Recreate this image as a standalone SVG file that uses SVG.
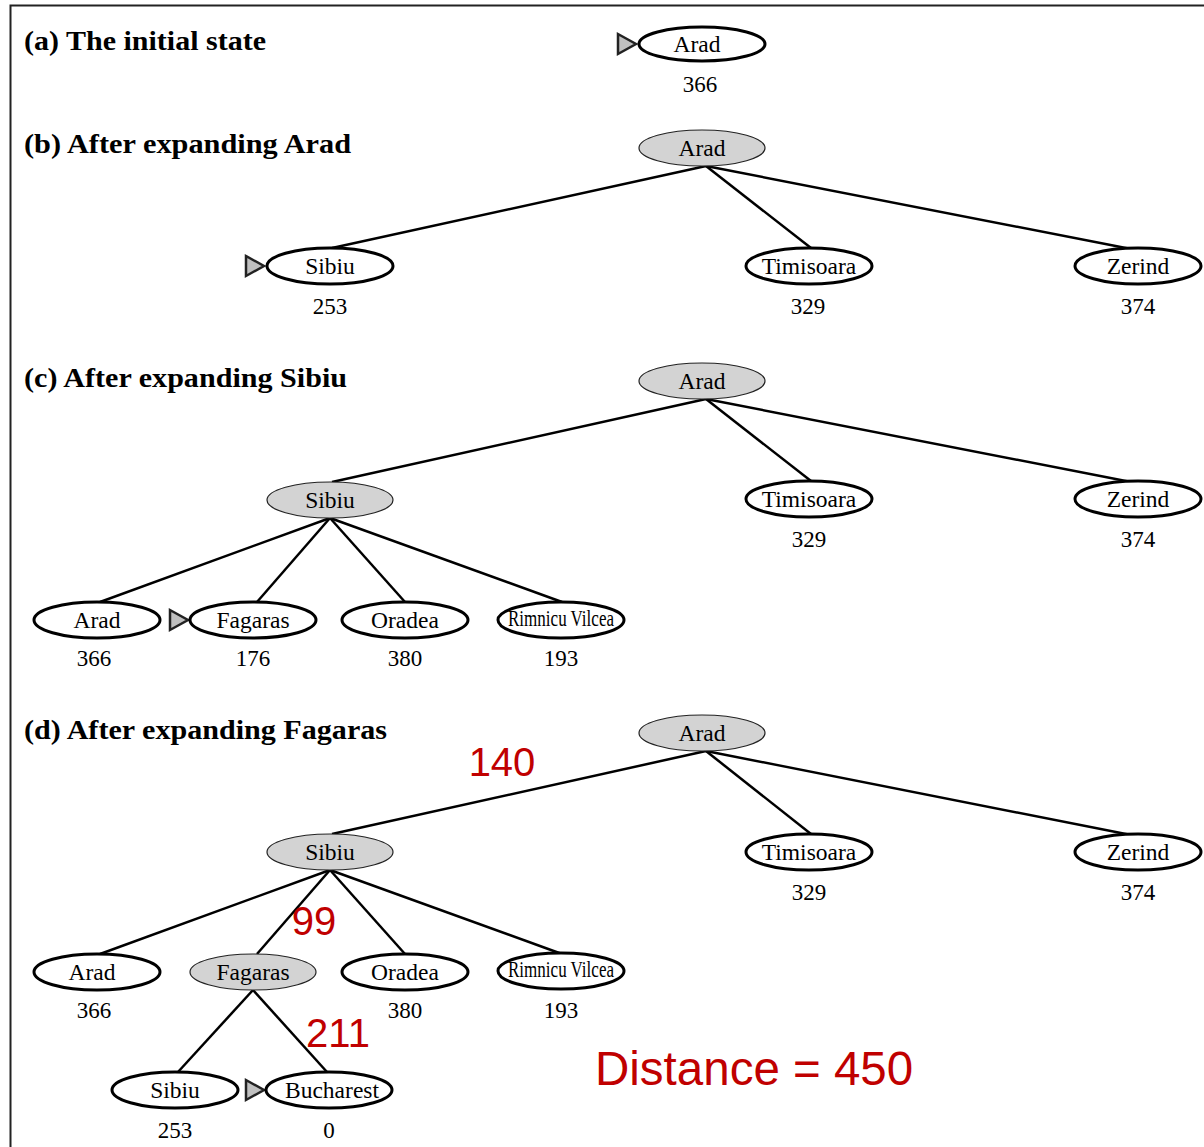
<svg xmlns="http://www.w3.org/2000/svg" width="1204" height="1147" viewBox="0 0 1204 1147">
<style>
.title{font-family:"Liberation Serif",serif;font-weight:bold;font-size:27px;fill:#000}
.lbl{font-family:"Liberation Serif",serif;font-size:23.5px;fill:#000;text-anchor:middle}
.val{font-family:"Liberation Serif",serif;font-size:23px;fill:#000;text-anchor:middle}
.red{font-family:"Liberation Sans",Arial,sans-serif;fill:#c00000}
.open{fill:#fff;stroke:#000;stroke-width:3}
.done{fill:#d3d3d3;stroke:#222;stroke-width:1.2}
.tri{fill:#c0c0c0;stroke:#222;stroke-width:2.5;stroke-linejoin:miter}
.edge{stroke:#000;stroke-width:2.5;fill:none}
</style>
<defs>
<polygon id="tri" class="tri" points="0,-10 0,10 18,0"/>
</defs>
<rect x="10.5" y="5.5" width="1200" height="1150" fill="#fff" stroke="#222" stroke-width="2"/>

<g id="titles">
<text class="title" x="24" y="50" textLength="242" lengthAdjust="spacingAndGlyphs">(a) The initial state</text>
<text class="title" x="24" y="153" textLength="327" lengthAdjust="spacingAndGlyphs">(b) After expanding Arad</text>
<text class="title" x="24" y="387" textLength="323" lengthAdjust="spacingAndGlyphs">(c) After expanding Sibiu</text>
<text class="title" x="24" y="739" textLength="363" lengthAdjust="spacingAndGlyphs">(d) After expanding Fagaras</text>
</g>

<g id="connectors">
<line class="edge" x1="706" y1="166" x2="332" y2="248"/>
<line class="edge" x1="706" y1="166" x2="811" y2="248"/>
<line class="edge" x1="706" y1="166" x2="1131" y2="249"/>
<line class="edge" x1="706" y1="399" x2="332" y2="482"/>
<line class="edge" x1="706" y1="399" x2="811" y2="481"/>
<line class="edge" x1="706" y1="399" x2="1131" y2="482"/>
<line class="edge" x1="330" y1="518" x2="100" y2="602"/>
<line class="edge" x1="330" y1="518" x2="257" y2="602"/>
<line class="edge" x1="330" y1="518" x2="405" y2="602"/>
<line class="edge" x1="330" y1="518" x2="562" y2="602"/>
<line class="edge" x1="706" y1="751" x2="332" y2="834"/>
<line class="edge" x1="706" y1="751" x2="811" y2="834"/>
<line class="edge" x1="706" y1="751" x2="1131" y2="835"/>
<line class="edge" x1="330" y1="870" x2="100" y2="954"/>
<line class="edge" x1="330" y1="870" x2="257" y2="954"/>
<line class="edge" x1="330" y1="870" x2="405" y2="954"/>
<line class="edge" x1="330" y1="870" x2="562" y2="954"/>
<line class="edge" x1="253" y1="990" x2="178" y2="1072"/>
<line class="edge" x1="253" y1="990" x2="327" y2="1072"/>
</g>

<g id="a_arad">
<use href="#tri" x="618" y="44"/>
<ellipse class="open" cx="702" cy="44" rx="63" ry="17"/>
<text class="lbl" x="697" y="52">Arad</text>
<text class="val" x="700" y="92">366</text>
</g>

<g id="b_arad">
<ellipse class="done" cx="702" cy="148" rx="63" ry="18"/>
<text class="lbl" x="702" y="156">Arad</text>
</g>
<g id="b_sibiu">
<use href="#tri" x="246" y="266"/>
<ellipse class="open" cx="330" cy="266" rx="63" ry="18"/>
<text class="lbl" x="330" y="274">Sibiu</text>
<text class="val" x="330" y="314">253</text>
</g>
<g id="b_timisoara">
<ellipse class="open" cx="809" cy="266" rx="63" ry="18"/>
<text class="lbl" x="809" y="274">Timisoara</text>
<text class="val" x="808" y="314">329</text>
</g>
<g id="b_zerind">
<ellipse class="open" cx="1138" cy="266" rx="63" ry="18"/>
<text class="lbl" x="1138" y="274">Zerind</text>
<text class="val" x="1138" y="314">374</text>
</g>

<g id="c_arad">
<ellipse class="done" cx="702" cy="381" rx="63" ry="18"/>
<text class="lbl" x="702" y="389">Arad</text>
</g>
<g id="c_sibiu">
<ellipse class="done" cx="330" cy="500" rx="63" ry="18"/>
<text class="lbl" x="330" y="508">Sibiu</text>
</g>
<g id="c_timisoara">
<ellipse class="open" cx="809" cy="499" rx="63" ry="18"/>
<text class="lbl" x="809" y="507">Timisoara</text>
<text class="val" x="809" y="547">329</text>
</g>
<g id="c_zerind">
<ellipse class="open" cx="1138" cy="499" rx="63" ry="18"/>
<text class="lbl" x="1138" y="507">Zerind</text>
<text class="val" x="1138" y="547">374</text>
</g>
<g id="c_arad2">
<ellipse class="open" cx="97" cy="620" rx="63" ry="18"/>
<text class="lbl" x="97" y="628">Arad</text>
<text class="val" x="94" y="666">366</text>
</g>
<g id="c_fagaras">
<use href="#tri" x="170" y="620"/>
<ellipse class="open" cx="253" cy="620" rx="63" ry="18"/>
<text class="lbl" x="253" y="628">Fagaras</text>
<text class="val" x="253" y="666">176</text>
</g>
<g id="c_oradea">
<ellipse class="open" cx="405" cy="620" rx="63" ry="18"/>
<text class="lbl" x="405" y="628">Oradea</text>
<text class="val" x="405" y="666">380</text>
</g>
<g id="c_rimnicu">
<ellipse class="open" cx="561" cy="620" rx="63" ry="18"/>
<text class="lbl" x="561" y="626" textLength="106" lengthAdjust="spacingAndGlyphs" font-size="20">Rimnicu Vilcea</text>
<text class="val" x="561" y="666">193</text>
</g>

<g id="d_arad">
<ellipse class="done" cx="702" cy="733" rx="63" ry="18"/>
<text class="lbl" x="702" y="741">Arad</text>
</g>
<g id="d_sibiu">
<ellipse class="done" cx="330" cy="852" rx="63" ry="18"/>
<text class="lbl" x="330" y="860">Sibiu</text>
</g>
<g id="d_timisoara">
<ellipse class="open" cx="809" cy="852" rx="63" ry="18"/>
<text class="lbl" x="809" y="860">Timisoara</text>
<text class="val" x="809" y="900">329</text>
</g>
<g id="d_zerind">
<ellipse class="open" cx="1138" cy="852" rx="63" ry="18"/>
<text class="lbl" x="1138" y="860">Zerind</text>
<text class="val" x="1138" y="900">374</text>
</g>
<g id="d_arad2">
<ellipse class="open" cx="97" cy="972" rx="63" ry="18"/>
<text class="lbl" x="92" y="980">Arad</text>
<text class="val" x="94" y="1018">366</text>
</g>
<g id="d_fagaras">
<ellipse class="done" cx="253" cy="972" rx="63" ry="18"/>
<text class="lbl" x="253" y="980">Fagaras</text>
</g>
<g id="d_oradea">
<ellipse class="open" cx="405" cy="972" rx="63" ry="18"/>
<text class="lbl" x="405" y="980">Oradea</text>
<text class="val" x="405" y="1018">380</text>
</g>
<g id="d_rimnicu">
<ellipse class="open" cx="561" cy="971" rx="63" ry="18"/>
<text class="lbl" x="561" y="977" textLength="106" lengthAdjust="spacingAndGlyphs" font-size="20">Rimnicu Vilcea</text>
<text class="val" x="561" y="1018">193</text>
</g>
<g id="d_sibiu2">
<ellipse class="open" cx="175" cy="1090" rx="63" ry="18"/>
<text class="lbl" x="175" y="1098">Sibiu</text>
<text class="val" x="175" y="1138">253</text>
</g>
<g id="d_bucharest">
<use href="#tri" x="246" y="1090"/>
<ellipse class="open" cx="329" cy="1090" rx="63" ry="18"/>
<text class="lbl" x="332" y="1098">Bucharest</text>
<text class="val" x="329" y="1138">0</text>
</g>

<g id="annotations">
<text class="red" x="502" y="776" font-size="40" text-anchor="middle">140</text>
<text class="red" x="314" y="935" font-size="40" text-anchor="middle">99</text>
<text class="red" x="338" y="1047" font-size="40" text-anchor="middle">211</text>
<text class="red" x="595" y="1085" font-size="47.5">Distance = 450</text>
</g>
</svg>
